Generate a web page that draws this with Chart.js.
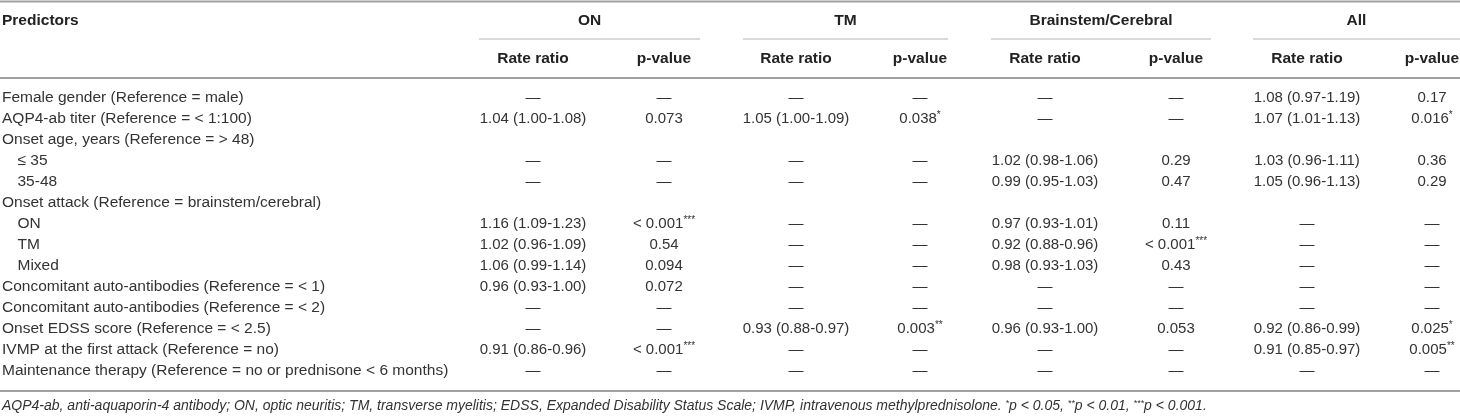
<!DOCTYPE html>
<html><head><meta charset="utf-8">
<script src="https://cdn.jsdelivr.net/npm/chart.js@4.4.1/dist/chart.umd.min.js"></script>
<style>html,body{margin:0;padding:0;background:#fff}canvas{display:block}</style>
</head><body>
<canvas id="c" width="1460" height="417"></canvas>
<script>
// ---------- DATA ----------
const predictors = [
  "Female gender (Reference = male)",
  "AQP4-ab titer (Reference = < 1:100)",
  "Onset age, years (Reference = > 48)",
  "≤ 35",
  "35-48",
  "Onset attack (Reference = brainstem/cerebral)",
  "ON",
  "TM",
  "Mixed",
  "Concomitant auto-antibodies (Reference = < 1)",
  "Concomitant auto-antibodies (Reference = < 2)",
  "Onset EDSS score (Reference = < 2.5)",
  "IVMP at the first attack (Reference = no)",
  "Maintenance therapy (Reference = no or prednisone < 6 months)"
];
const subRows = [3, 4, 6, 7, 8];
const headerTitle = "Predictors";
const groups = ["ON", "TM", "Brainstem/Cerebral", "All"];
const subHeaders = ["Rate ratio", "p-value"];
const D = "—";
const onRate  = [D, "1.04 (1.00-1.08)", "", D, D, "", "1.16 (1.09-1.23)", "1.02 (0.96-1.09)", "1.06 (0.99-1.14)", "0.96 (0.93-1.00)", D, D, "0.91 (0.86-0.96)", D];
const onP     = [D, "0.073", "", D, D, "", "< 0.001***", "0.54", "0.094", "0.072", D, D, "< 0.001***", D];
const tmRate  = [D, "1.05 (1.00-1.09)", "", D, D, "", D, D, D, D, D, "0.93 (0.88-0.97)", D, D];
const tmP     = [D, "0.038*", "", D, D, "", D, D, D, D, D, "0.003**", D, D];
const bcRate  = [D, D, "", "1.02 (0.98-1.06)", "0.99 (0.95-1.03)", "", "0.97 (0.93-1.01)", "0.92 (0.88-0.96)", "0.98 (0.93-1.03)", D, D, "0.96 (0.93-1.00)", D, D];
const bcP     = [D, D, "", "0.29", "0.47", "", "0.11", "< 0.001***", "0.43", D, D, "0.053", D, D];
const allRate = ["1.08 (0.97-1.19)", "1.07 (1.01-1.13)", "", "1.03 (0.96-1.11)", "1.05 (0.96-1.13)", "", D, D, D, D, D, "0.92 (0.86-0.99)", "0.91 (0.85-0.97)", D];
const allP    = ["0.17", "0.016*", "", "0.36", "0.29", "", D, D, D, D, D, "0.025*", "0.005**", D];
const footnote = "AQP4-ab, anti-aquaporin-4 antibody; ON, optic neuritis; TM, transverse myelitis; EDSS, Expanded Disability Status Scale; IVMP, intravenous methylprednisolone. *p < 0.05, **p < 0.01, ***p < 0.001.";

// ---------- LAYOUT (x-scale units) ----------
const columns = [onRate, onP, tmRate, tmP, bcRate, bcP, allRate, allP];
const layout = {
  colCenters: [6.3, 19.4, 32.6, 45.0, 57.5, 70.6, 83.7, 96.2],
  groupSpans: [[0.9, 23.0], [27.3, 47.8], [52.1, 74.1], [78.3, 99]],
  fontFamily: "'Liberation Sans', Arial, sans-serif",
  cellSize: 15,
  labelSize: 15.5,
  headSize: 15.5,
  footSize: 14,
  textColor: "#333333",
  headColor: "#222222",
  ruleColor: "#a0a0a0",
  groupRuleColor: "#b4b4b4"
};

function drawRich(ctx, text, x, y, align, font, smallFont, rise) {
  const parts = text.split(/(\*+)/).filter(s => s.length);
  let total = 0;
  const widths = parts.map(p => {
    ctx.font = /^\*+$/.test(p) ? smallFont : font;
    const w = ctx.measureText(p).width; total += w; return w;
  });
  let sx = align === 'center' ? x - total / 2 : x;
  ctx.textAlign = 'left';
  parts.forEach((p, i) => {
    const star = /^\*+$/.test(p);
    ctx.font = star ? smallFont : font;
    ctx.fillText(p, sx, star ? y - rise : y);
    sx += widths[i];
  });
}

const tablePlugin = {
  id: 'tablePlugin',
  afterDatasetsDraw(chart) {
    const ctx = chart.ctx, xS = chart.scales.x, yS = chart.scales.y;
    const fam = layout.fontFamily;
    const font = layout.cellSize + "px " + fam, small = "10px " + fam;
    const bold = "bold " + layout.headSize + "px " + fam;
    const top = yS.top, bottom = yS.bottom, W = chart.width;
    ctx.save();
    ctx.textBaseline = 'middle';
    // cells
    chart.data.datasets.forEach((ds, di) => {
      const meta = chart.getDatasetMeta(di);
      ctx.fillStyle = layout.textColor;
      meta.data.forEach((el, i) => {
        const t = ds.cellText[i];
        if (t) drawRich(ctx, t, el.x, el.y, 'center', font, small, 4);
      });
    });
    // rules
    const hline = (x1, x2, y, w) => { ctx.lineWidth = w; ctx.beginPath(); ctx.moveTo(x1, y); ctx.lineTo(x2, y); ctx.stroke(); };
    ctx.strokeStyle = layout.ruleColor;
    hline(0, W, top - 86, 2);
    hline(0, W, top - 9.5, 2);
    hline(0, W, bottom + 9.5, 2);
    ctx.strokeStyle = layout.groupRuleColor;
    layout.groupSpans.forEach(s => hline(xS.getPixelForValue(s[0]), xS.getPixelForValue(s[1]), top - 48.5, 1));
    // headers
    ctx.fillStyle = layout.headColor;
    ctx.font = bold;
    ctx.textAlign = 'left';
    ctx.fillText(headerTitle, 2, top - 66.5);
    ctx.textAlign = 'center';
    groups.forEach((g, gi) => {
      const s = layout.groupSpans[gi];
      ctx.fillText(g, (xS.getPixelForValue(s[0]) + xS.getPixelForValue(s[1])) / 2, top - 66.5);
      subHeaders.forEach((h, hi) => {
        ctx.fillText(h, xS.getPixelForValue(layout.colCenters[gi * 2 + hi]), top - 28.5);
      });
    });
    // footnote
    ctx.fillStyle = layout.textColor;
    const fi = "italic " + layout.footSize + "px " + fam;
    drawRich(ctx, footnote, 2, bottom + 25, 'left', fi, "italic 9px " + fam, 3);
    ctx.restore();
  }
};

const datasets = columns.map((col, c) => ({
  label: "col" + c,
  cellText: col,
  data: predictors.map(p => ({ x: layout.colCenters[c], y: p })),
  pointRadius: 0,
  pointHoverRadius: 0,
  showLine: false
}));

new Chart(document.getElementById('c'), {
  type: 'scatter',
  data: { labels: predictors, datasets },
  options: {
    responsive: false,
    animation: false,
    devicePixelRatio: 1,
    events: [],
    layout: { padding: { top: 87.5, bottom: 35.5, left: 2, right: 0 } },
    plugins: { legend: { display: false }, tooltip: { enabled: false } },
    scales: {
      x: { type: 'linear', min: 0, max: 99, display: false },
      y: {
        type: 'category',
        labels: predictors,
        offset: true,
        grid: { display: false },
        border: { display: false },
        afterFit: s => { s.width = 468; },
        ticks: {
          autoSkip: false,
          crossAlign: 'far',
          padding: 0,
          color: layout.textColor,
          font: { family: layout.fontFamily, size: layout.labelSize },
          callback: (v, i) => (subRows.includes(i) ? "\u2003" : "") + predictors[i]
        }
      }
    }
  },
  plugins: [tablePlugin]
});
</script>
</body></html>
